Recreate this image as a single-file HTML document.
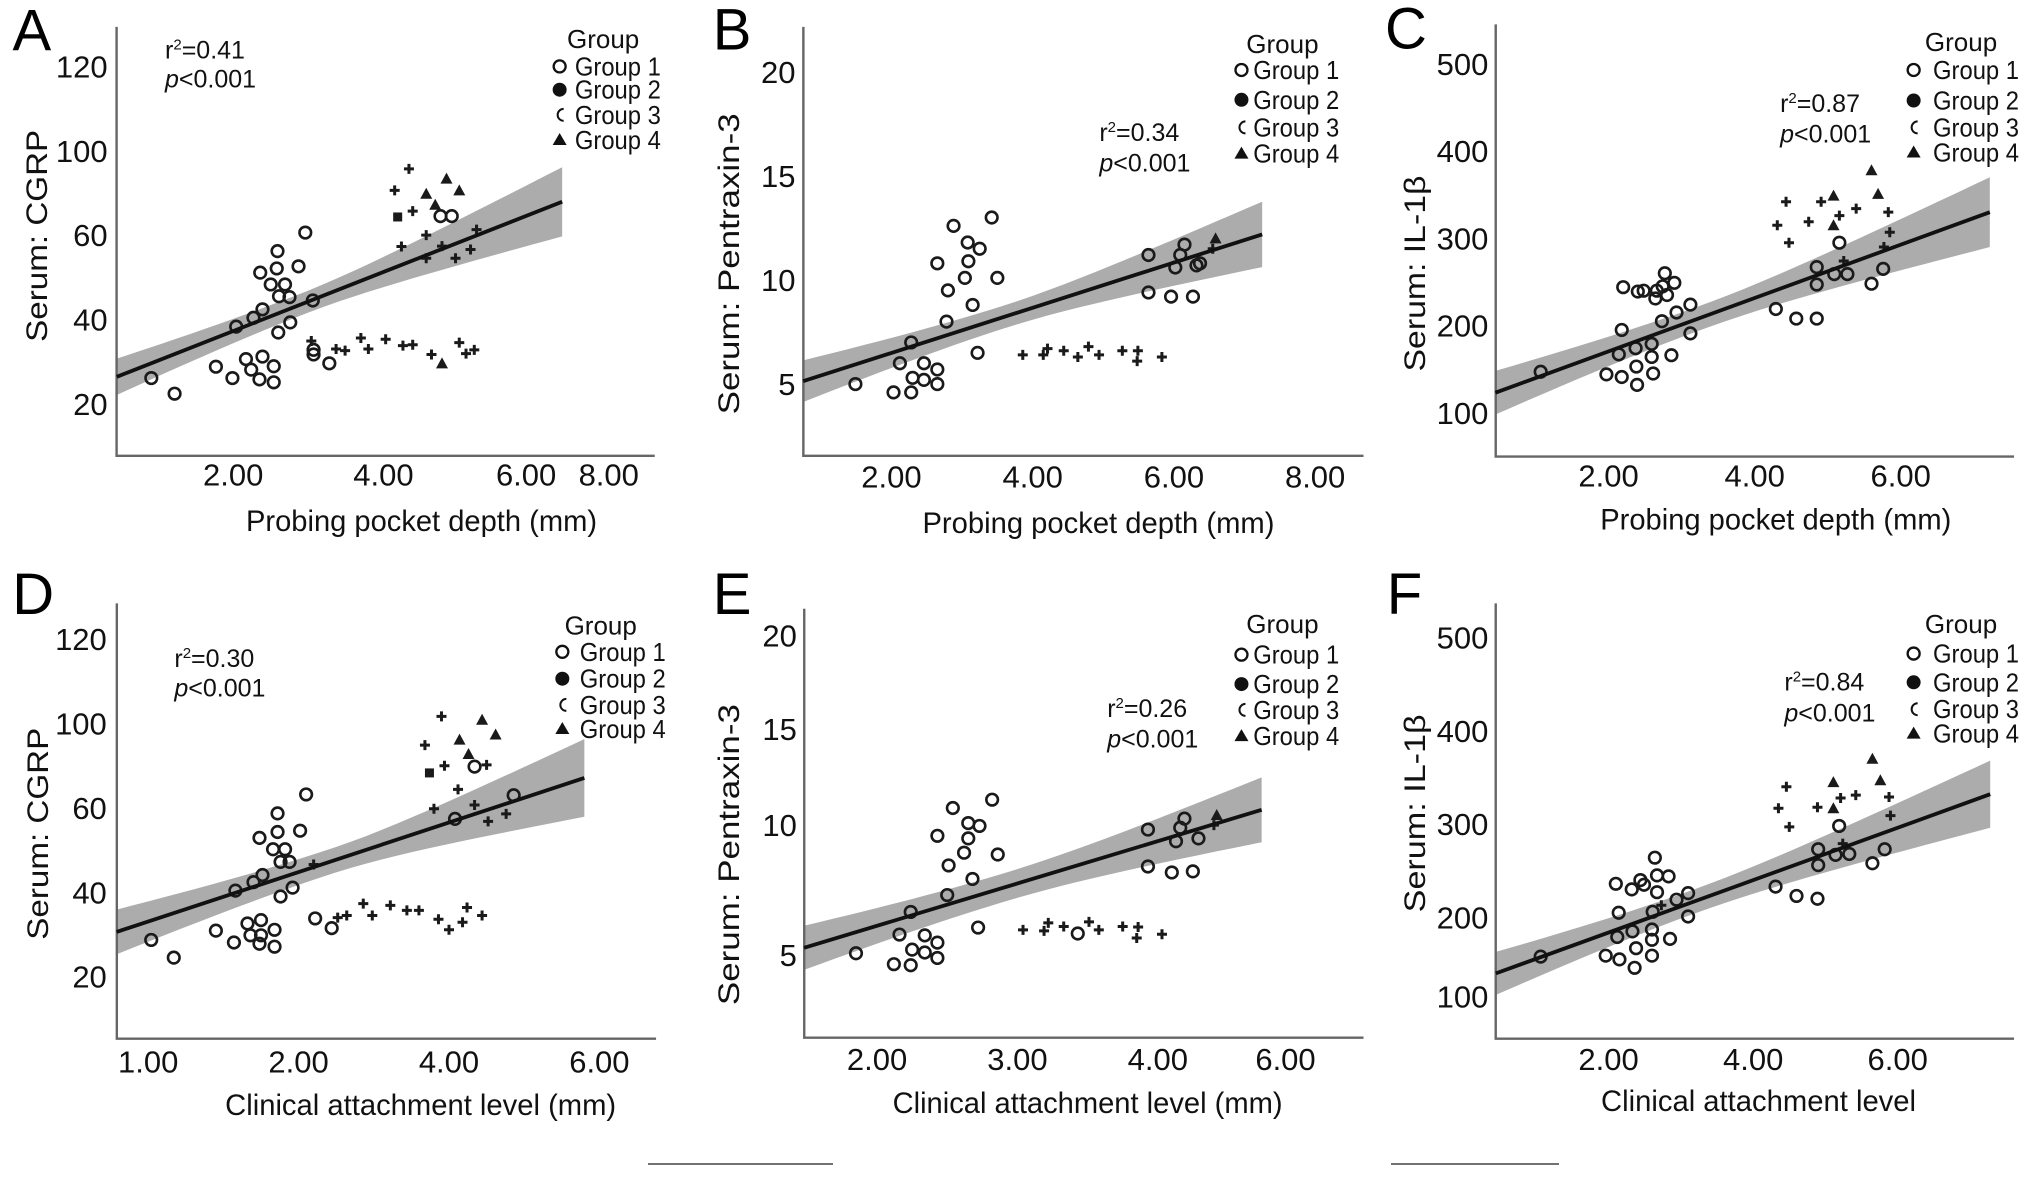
<!DOCTYPE html>
<html><head><meta charset="utf-8"><style>
html,body{margin:0;padding:0;background:#fff;overflow:hidden;}
svg{display:block;font-family:"Liberation Sans",Arial,sans-serif;}
</style></head><body>
<svg id="fig" xmlns="http://www.w3.org/2000/svg" width="2032" height="1178" viewBox="0 0 2032 1178"></svg>
<script>
// ===== Panel A data (PPD vs CGRP) =====
const aG1x=[0.91,1.22,1.77,1.99,2.04,2.17,2.24,2.27,2.35,2.36,2.39,2.39,2.50,2.54,2.54,2.58,2.59,2.60,2.61,2.69,2.75,2.76,2.87,2.96,3.06,3.07,3.28,4.76,4.91,3.07];
const aG1y=[26.1,22.4,28.8,26.1,38.3,30.6,28.1,40.4,25.8,51.1,42.4,31.2,48.3,28.9,25.1,52.1,56.2,36.9,45.5,48.3,45.3,39.3,52.6,60.6,44.5,31.7,29.6,64.5,64.5,32.8];
const aG3x=[4.15,4.34,4.39,4.24,4.57,4.57,4.78,4.96,5.16,5.24,3.04,3.37,3.49,3.70,3.80,4.03,4.26,4.39,4.64,5.01,5.10,5.21];
const aG3y=[70.6,75.7,65.7,57.3,60.0,54.5,57.4,54.5,56.6,61.3,34.9,33.0,32.6,35.6,33.0,35.3,33.8,34.0,31.7,34.5,31.9,32.8];
const aG4x=[4.57,4.69,4.84,5.01,4.78];
const aG4y=[69.8,67.2,73.4,70.6,29.6];
const aG2x=[4.19];
const aG2y=[64.3];
const aLineX=[0.45,6.38];
const aLineY=[26.4,67.9];
const aBandW=[4.3,2.6,8.2];
const aXticks=[2,4,5.9,7];
const aXlabels=["2.00","4.00","6.00","8.00"];
const aYticks=[20,40,60,80,100];
const aYlabels=["20","40","60","100","120"];

// ===== Panel B data (PPD vs Pentraxin-3) =====
const bG1x=[1.49,2.03,2.12,2.28,2.28,2.30,2.46,2.46,2.65,2.65,2.65,2.78,2.80,2.88,3.04,3.08,3.09,3.15,3.22,3.25,3.42,3.50,5.64,5.64,5.96,6.02,6.09,6.15,6.27,6.32,6.37];
const bG1y=[5.0,4.6,6.0,4.6,7.0,5.3,5.2,6.0,5.7,5.0,10.8,8.0,9.5,12.6,10.1,11.8,10.9,8.8,6.5,11.5,13.0,10.1,11.2,9.4,9.2,10.6,11.2,11.7,9.2,10.7,10.8];
const bG3x=[3.86,4.15,4.21,4.44,4.64,4.79,4.94,5.27,5.49,5.48,5.83,6.55];
const bG3y=[6.4,6.4,6.7,6.6,6.3,6.8,6.4,6.6,6.6,6.1,6.3,11.5];
const bG4x=[6.59];
const bG4y=[12.0];
const bG2x=[];
const bG2y=[];
const bLineX=[0.75,7.25];
const bLineY=[5.14,12.19];
const bBandW=[1.0,0.55,1.57];
const bXticks=[2,4,6,8];
const bXlabels=["2.00","4.00","6.00","8.00"];
const bYticks=[5,10,15,20];
const bYlabels=["5","10","15","20"];

// ===== Panel C data (PPD vs IL-1β) =====
const cG1x=[1.07,1.97,2.14,2.18,2.18,2.20,2.37,2.38,2.39,2.40,2.59,2.59,2.61,2.64,2.73,2.74,2.77,2.80,2.90,2.93,2.86,3.12,3.12,4.29,4.57,4.85,4.85,4.85,5.09,5.16,5.27,5.60,5.76,2.48,2.66];
const cG1y=[147,144,167,195,141,244,174,153,132,239,179,164,145,231,205,245,260,235,249,215,166,224,191,219,208,208,247,267,259,295,259,248,265,240,240];
const cG3x=[4.43,4.31,4.47,4.74,4.91,5.16,5.39,5.83,5.85,5.77,5.22];
const cG3y=[342,315,295,319,342,326,334,330,307,290,274];
const cG4x=[5.08,5.08,5.60,5.69];
const cG4y=[349,315,378,351];
const cG2x=[];
const cG2y=[];
const cLineX=[0.45,7.22];
const cLineY=[123,330];
const cBandW=[25,14,40];
const cXticks=[2,4,6];
const cXlabels=["2.00","4.00","6.00"];
const cYticks=[100,200,300,400,500];
const cYlabels=["100","200","300","400","500"];

// ===== Panel D data (CAL vs CGRP) =====
const dG1x=[1.02,1.17,1.45,1.57,1.58,1.66,1.68,1.70,1.74,1.74,1.75,1.75,1.76,1.83,1.84,1.84,1.86,1.86,1.88,1.88,1.91,1.94,1.96,2.01,2.05,2.11,2.22,3.04,3.17,3.43];
const dG1y=[28.7,24.5,30.9,28.1,40.4,32.6,29.8,42.4,52.9,27.8,33.4,29.8,44.1,50.2,31.1,27.1,58.7,54.3,39.0,47.2,50.2,47.2,41.1,54.6,63.2,33.8,31.5,57.4,69.8,63.0];
const dG3x=[2.95,2.84,2.97,2.90,3.06,3.17,3.26,3.38,3.25,2.10,2.43,2.49,2.61,2.72,2.80,2.93,3.00,3.12,3.22,2.32,2.26,3.09];
const dG3y=[81.7,74.9,70.0,59.8,64.4,60.7,56.8,58.6,70.2,46.6,37.3,34.5,36.9,35.7,35.7,33.6,31.1,36.4,34.5,34.5,34.0,32.9];
const dG4x=[3.07,3.22,3.31,3.13];
const dG4y=[76.2,80.9,77.4,72.8];
const dG2x=[2.87];
const dG2y=[68.3];
const dLineX=[0.79,3.90];
const dLineY=[30.6,67.1];
const dBandW=[5.3,3.0,9.2];
const dXticks=[1,2,3,4];
const dXlabels=["1.00","2.00","4.00","6.00"];
const dYticks=[20,40,60,80,100];
const dYlabels=["20","40","60","100","120"];

// ===== Panel E data (CAL vs Pentraxin-3) =====
const eG1x=[1.85,2.12,2.16,2.24,2.24,2.25,2.34,2.34,2.43,2.43,2.43,2.50,2.51,2.54,2.62,2.65,2.65,2.68,2.72,2.73,2.82,2.86,3.93,3.93,4.10,4.13,4.16,4.19,4.25,4.29,3.43];
const eG1y=[5.07,4.65,5.79,4.61,6.66,5.21,5.10,5.76,5.48,4.89,9.59,7.31,8.45,10.66,8.94,10.08,9.49,7.93,6.06,9.97,10.98,8.87,9.83,8.41,8.18,9.38,9.90,10.25,8.22,9.49,5.83];
const eG3x=[3.04,3.19,3.22,3.33,3.51,3.58,3.75,3.86,3.85,4.03,4.40];
const eG3y=[5.97,5.93,6.24,6.10,6.28,5.97,6.10,6.08,5.66,5.80,10.0];
const eG4x=[4.42];
const eG4y=[10.39];
const eG2x=[];
const eG2y=[];
const eLineX=[1.48,4.74];
const eLineY=[5.28,10.59];
const eBandW=[0.85,0.55,1.25];
const eXticks=[2,3,4,4.91];
const eXlabels=["2.00","3.00","4.00","6.00"];
const eYticks=[5,10,13.7,17.3];
const eYlabels=["5","10","15","20"];

// ===== Panel F data (CAL vs IL-1β) =====
const fG1x=[1.06,1.96,2.12,2.14,2.15,2.10,2.32,2.33,2.38,2.36,2.44,2.60,2.60,2.60,2.64,2.67,2.67,2.61,2.83,2.85,2.94,3.10,3.10,4.31,4.60,4.89,4.90,4.90,5.14,5.19,5.33,5.65,5.82,2.49];
const fG1y=[158,159,179,205,155,236,230,185,167,146,240,187,176,159,264,245,227,206,244,177,219,226,201,233,223,220,256,273,267,298,268,258,273,235];
const fG3x=[4.46,4.35,4.50,4.89,5.21,5.42,5.88,5.90,5.24,2.73];
const fG3y=[340,317,297,318,328,331,329,309,279,213];
const fG4x=[5.11,5.11,5.65,5.76];
const fG4y=[345,317,370,347];
const fG2x=[];
const fG2y=[];
const fLineX=[0.44,7.28];
const fLineY=[140,332];
const fBandW=[23,13,36];
const fXticks=[2,4,6];
const fXlabels=["2.00","4.00","6.00"];
const fYticks=[115,200,300,400,500];
const fYlabels=["100","200","300","400","500"];

// ===== layout config (crop-space geometry, not data) =====
const ZFY=2.786;
const panels=[
 {id:"a",L:"A",off:[0,0],zf:2.23,ax:260,top:75,base:1270,right:1460,xr:[[2,520],[4,855]],yr:[[20,1125],[40,890]],xm:2.9,
  d:[aG1x,aG1y,aG2x,aG2y,aG3x,aG3y,aG4x,aG4y,aLineX,aLineY,aBandW,aXticks,aXlabels,aYticks,aYlabels],
  xtb:1352,ylx:240,xt:["Probing pocket depth (mm)",940,1480,351],yt:["Serum: CGRP",80,657,212],let:[28,140],
  leg:[1345,112,1248,1282,[185,250,320,390]],r2:["0.41",368,140,222]},
 {id:"b",L:"B",off:[680,0],zf:2.294,ax:283,top:75,base:1270,right:1568,xr:[[2,485],[6,1133]],yr:[[5,1070],[10,780]],xm:3.6,
  d:[bG1x,bG1y,bG2x,bG2y,bG3x,bG3y,bG4x,bG4y,bLineX,bLineY,bBandW,bXticks,bXlabels,bYticks,bYlabels],
  xtb:1358,ylx:265,xt:["Probing pocket depth (mm)",960,1485,352],yt:["Serum: Pentraxin-3",110,735,301],let:[75,138],
  leg:[1382,125,1288,1315,[195,278,355,428]],r2:["0.34",962,370,455]},
 {id:"c",L:"C",off:[1360,0],zf:2.321,ax:315,top:68,base:1272,right:1518,xr:[[2,577],[6,1255]],yr:[[100,1150],[500,178]],xm:3.3,
  d:[cG1x,cG1y,cG2x,cG2y,cG3x,cG3y,cG4x,cG4y,cLineX,cLineY,cBandW,cXticks,cXlabels,cYticks,cYlabels],
  xtb:1355,ylx:298,xt:["Probing pocket depth (mm)",965,1475,351],yt:["Serum: IL-1β",125,762,196],let:[58,135],
  leg:[1395,120,1285,1330,[195,280,355,425]],r2:["0.87",975,290,375]},
 {id:"d",L:"D",off:[0,580],zf:2.294,ax:268,top:65,base:1278,right:1505,xr:[[1,340],[2,685]],yr:[[20,1105],[40,870]],xm:2.2,
  d:[dG1x,dG1y,dG2x,dG2y,dG3x,dG3y,dG4x,dG4y,dLineX,dLineY,dBandW,dXticks,dXlabels,dYticks,dYlabels],
  xtb:1372,ylx:245,xt:["Clinical attachment level (mm)",965,1490,391],yt:["Serum: CGRP",85,707,212],let:[28,95],
  leg:[1378,130,1290,1330,[200,275,348,415]],r2:["0.30",400,220,302]},
 {id:"e",L:"E",off:[680,580],zf:2.294,ax:285,top:80,base:1275,right:1568,xr:[[2,452],[3,774]],yr:[[5,1045],[10,683]],xm:2.9,
  d:[eG1x,eG1y,eG2x,eG2y,eG3x,eG3y,eG4x,eG4y,eLineX,eLineY,eBandW,eXticks,eXlabels,eYticks,eYlabels],
  xtb:1365,ylx:268,xt:["Clinical attachment level (mm)",935,1485,390],yt:["Serum: Pentraxin-3",110,765,301],let:[75,95],
  leg:[1382,125,1288,1315,[208,290,362,435]],r2:["0.26",980,360,445]},
 {id:"f",L:"F",off:[1360,580],zf:2.321,ax:315,top:65,base:1278,right:1518,xr:[[2,577],[6,1248]],yr:[[300,680],[400,420]],xm:3.2,
  d:[fG1x,fG1y,fG2x,fG2y,fG3x,fG3y,fG4x,fG4y,fLineX,fLineY,fBandW,fXticks,fXlabels,fYticks,fYlabels],
  xtb:1365,ylx:298,xt:["Clinical attachment level",925,1480,315],yt:["Serum: IL-1β",125,650,198],let:[62,95],
  leg:[1395,125,1285,1330,[205,285,360,428]],r2:["0.84",985,285,372]}
];

const NS="http://www.w3.org/2000/svg";
const svg=document.getElementById("fig");
function mk(tag,attrs,parent){const e=document.createElementNS(NS,tag);for(const k in attrs)e.setAttribute(k,attrs[k]);(parent||svg).appendChild(e);return e;}

panels.forEach(p=>{
  const [g1x,g1y,g2x,g2y,g3x,g3y,g4x,g4y,lx,ly,bw,xt,xl,yt,yl]=p.d;
  const zx=z=>p.off[0]+z/p.zf, zy=z=>p.off[1]+z/ZFY;
  const sx=v=>zx(p.xr[0][1]+(v-p.xr[0][0])*(p.xr[1][1]-p.xr[0][1])/(p.xr[1][0]-p.xr[0][0]));
  const sy=v=>zy(p.yr[0][1]+(v-p.yr[0][0])*(p.yr[1][1]-p.yr[0][1])/(p.yr[1][0]-p.yr[0][0]));
  const g=mk("g",{});
  
  

  const n=30,x0=lx[0],x1=lx[1];
  const slope=(ly[1]-ly[0])/(x1-x0);
  const lineAt=x=>ly[0]+slope*(x-x0);
  const bL=(bw[0]*bw[0]-bw[1]*bw[1])/Math.pow(x0-p.xm,2), bR=(bw[2]*bw[2]-bw[1]*bw[1])/Math.pow(x1-p.xm,2);
  const half=x=>Math.sqrt(bw[1]*bw[1]+(x<p.xm?bL:bR)*Math.pow(x-p.xm,2));
  let up=[],lo=[];
  for(let i=0;i<=n;i++){const x=x0+(x1-x0)*i/n;up.push(sx(x)+","+sy(lineAt(x)+half(x)));lo.push(sx(x)+","+sy(lineAt(x)-half(x)));}
  const band=mk("polygon",{points:up.concat(lo.reverse()).join(" "),fill:"#acacac"},g);
  
  

  const axes=mk("path",{d:`M${zx(p.ax)},${zy(p.top)} L${zx(p.ax)},${zy(p.base)} L${zx(p.right)},${zy(p.base)}`,fill:"none",stroke:"#666",'stroke-width':2.4},g);
  
  

  g1x.forEach((v,i)=>{const c=mk("circle",{cx:sx(v),cy:sy(g1y[i]),r:5.8,fill:"none",stroke:"#1a1a1a",'stroke-width':2.6},g);
    
    });
  g2x.forEach((v,i)=>{const c=mk("rect",{x:sx(v)-4.5,y:sy(g2y[i])-4.5,width:9,height:9,fill:"#1a1a1a"},g);
    
    });
  g3x.forEach((v,i)=>{const X=sx(v),Y=sy(g3y[i]);const c=mk("path",{d:`M${X-5},${Y} L${X+5},${Y} M${X},${Y-5} L${X},${Y+5}`,stroke:"#1a1a1a",'stroke-width':3,fill:"none"},g);
    
    });
  g4x.forEach((v,i)=>{const X=sx(v),Y=sy(g4y[i]);const c=mk("polygon",{points:`${X},${Y-6} ${X+6},${Y+5} ${X-6},${Y+5}`,fill:"#1a1a1a"},g);
    
    });

  const fl=mk("line",{x1:sx(lx[0]),y1:sy(ly[0]),x2:sx(lx[1]),y2:sy(ly[1]),stroke:"#111",'stroke-width':3.8},g);
  
  

  xt.forEach((v,i)=>{const t=mk("text",{x:sx(v),y:zy(p.xtb),'text-anchor':'middle','font-size':31,fill:"#111"},g);t.textContent=xl[i];
    
    });
  yt.forEach((v,i)=>{const t=mk("text",{x:zx(p.ylx),y:sy(v)+11,'text-anchor':'end','font-size':31,fill:"#111"},g);t.textContent=yl[i];
    
    });

  const xtt=mk("text",{x:zx(p.xt[1]),y:zy(p.xt[2]),'text-anchor':'middle','font-size':30,fill:"#111",textLength:p.xt[3],lengthAdjust:"spacingAndGlyphs"},g);
  xtt.textContent=p.xt[0];
  
  
  const cx=zx(p.yt[1])+11,cy=zy(p.yt[2]);
  const ytt=mk("text",{x:cx,y:cy,'text-anchor':'middle','font-size':30,fill:"#111",transform:`rotate(-90 ${cx} ${cy})`,textLength:p.yt[3],lengthAdjust:"spacingAndGlyphs"},g);
  ytt.textContent=p.yt[0];
  
  

  const lt=mk("text",{x:zx(p.let[0]),y:zy(p.let[1]),'font-size':58,fill:"#000"},g);lt.textContent=p.L;
  
  

  const r=mk("text",{x:zx(p.r2[1]),y:zy(p.r2[2])+8,'font-size':25,fill:"#111"},g);
  r.innerHTML='r<tspan dy="-9" font-size="15">2</tspan><tspan dy="9">=' + p.r2[0] + '</tspan>';
  
  
  const pv=mk("text",{x:zx(p.r2[1]),y:zy(p.r2[3])+8,'font-size':25,fill:"#111"},g);
  pv.innerHTML='<tspan font-style="italic">p</tspan>&lt;0.001';
  
  

  const lg=mk("g",{},g);
  
  
  const gt=mk("text",{x:zx(p.leg[0]),y:zy(p.leg[1])+8,'text-anchor':'middle','font-size':26,fill:"#111"},lg);gt.textContent="Group";
  
  
  p.leg[4].forEach((ry,i)=>{
    const mx=zx(p.leg[2]),my=zy(ry);
    let m;
    if(i==0)m=mk("circle",{cx:mx,cy:my,r:6,fill:"none",stroke:"#111",'stroke-width':2.3},lg);
    else if(i==1)m=mk("circle",{cx:mx,cy:my,r:7,fill:"#111"},lg);
    else if(i==2)m=mk("path",{d:`M${mx+4},${my-6} A6,6 0 1 0 ${mx+4},${my+6}`,fill:"none",stroke:"#111",'stroke-width':2},lg);
    else m=mk("polygon",{points:`${mx},${my-7} ${mx+7},${my+5} ${mx-7},${my+5}`,fill:"#111"},lg);
    
    
    const t=mk("text",{x:zx(p.leg[3]),y:my+9,'font-size':26,fill:"#111",textLength:86,lengthAdjust:"spacingAndGlyphs"},lg);
    t.textContent="Group "+(i+1);
    
    
  });
});

[[648,833],[1391,1559]].forEach(s=>{const l=mk("line",{x1:s[0],y1:1164,x2:s[1],y2:1164,stroke:"#444",'stroke-width':1.5});
  
  });
</script>
</body></html>
